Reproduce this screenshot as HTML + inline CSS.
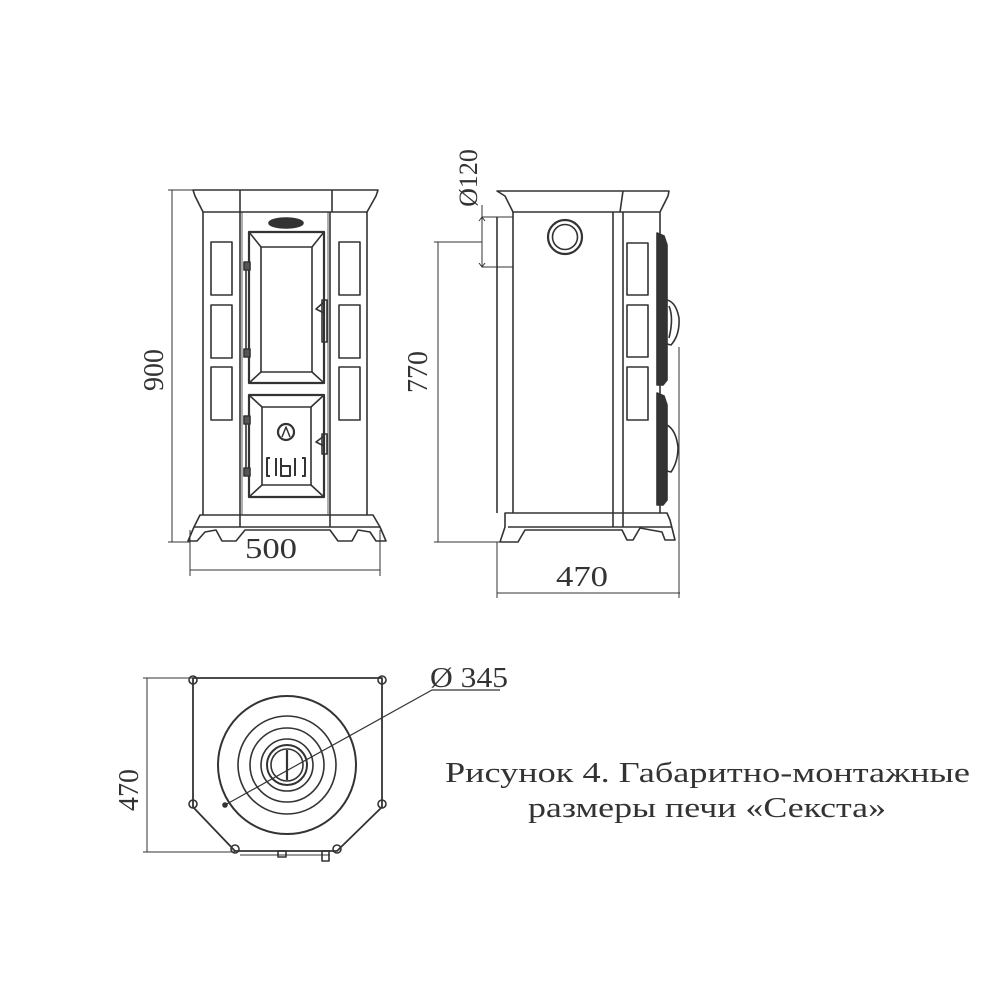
<!DOCTYPE html>
<html><head><meta charset="utf-8"><style>
html,body{margin:0;padding:0;background:#fff;}
svg{display:block}
text{font-family:"Liberation Serif",serif;fill:#333;}
</style></head><body>
<svg width="1000" height="1000" viewBox="0 0 1000 1000" xmlns="http://www.w3.org/2000/svg">
<g fill="none" stroke="#333" stroke-width="1.6" stroke-linejoin="round">
<!-- FRONT VIEW -->
<path d="M193 190 L378 190 L376 196 L367 212 L203 212 L195 196 Z"/>
<line x1="240" y1="190" x2="240" y2="212"/><line x1="332" y1="190" x2="332" y2="212"/>
<line x1="203" y1="212" x2="203" y2="515"/><line x1="367" y1="212" x2="367" y2="515"/>
<line x1="240" y1="212" x2="240" y2="515"/><line x1="330" y1="212" x2="330" y2="515"/>
<line x1="242" y1="212" x2="242" y2="515" stroke-width="0.8"/><line x1="328" y1="212" x2="328" y2="515" stroke-width="0.8"/>
<ellipse cx="286" cy="223" rx="17" ry="5" fill="#333"/>
<rect x="211" y="242" width="21" height="53"/><rect x="211" y="305" width="21" height="53"/><rect x="211" y="367" width="21" height="53"/>
<rect x="339" y="242" width="21" height="53"/><rect x="339" y="305" width="21" height="53"/><rect x="339" y="367" width="21" height="53"/>
<rect x="249" y="232" width="75" height="151" stroke-width="2.2"/>
<rect x="261" y="247" width="51" height="125"/>
<line x1="249" y1="232" x2="261" y2="247"/><line x1="324" y1="232" x2="312" y2="247"/><line x1="249" y1="383" x2="261" y2="372"/><line x1="324" y1="383" x2="312" y2="372"/>
<rect x="249" y="395" width="75" height="102" stroke-width="2.2"/>
<rect x="262" y="407" width="49" height="78"/>
<line x1="249" y1="395" x2="262" y2="407"/><line x1="324" y1="395" x2="311" y2="407"/><line x1="249" y1="497" x2="262" y2="485"/><line x1="324" y1="497" x2="311" y2="485"/>
<circle cx="286" cy="432" r="8" stroke-width="2.2"/>
<path d="M282 437 L286 427 L290 437" stroke-width="1.5"/>
<path d="M270 458 L267 458 L267 476 L270 476 M302 458 L305 458 L305 476 L302 476 M276 458 L276 476 M281 458 L281 476 L290 476 L290 466 L281 466 M295 458 L295 476" stroke-width="2"/>
<rect x="244" y="262" width="6" height="8" fill="#555"/><rect x="244" y="349" width="6" height="8" fill="#555"/>
<rect x="244" y="416" width="6" height="8" fill="#555"/><rect x="244" y="468" width="6" height="8" fill="#555"/>
<line x1="246" y1="270" x2="246" y2="349"/><line x1="246" y1="424" x2="246" y2="468"/>
<path d="M324 302 L316 309 L324 313"/><rect x="322" y="300" width="5" height="42"/>
<path d="M324 436 L316 442 L324 446"/><rect x="322" y="434" width="5" height="20"/>
<path d="M200 515 L373 515 L380 527 L386 541 L376 541 L370 532 L358 530 L352 541 L338 541 L330 530 L245 530 L236 541 L222 541 L216 530 L205 532 L197 541 L188 541 L194 527 Z"/>
<line x1="194" y1="527" x2="380" y2="527"/>
<line x1="240" y1="515" x2="240" y2="527"/><line x1="330" y1="515" x2="330" y2="527"/>
<line x1="172" y1="190" x2="172" y2="542" stroke-width="1"/>
<line x1="168" y1="190" x2="193" y2="190" stroke-width="1"/><line x1="168" y1="542" x2="190" y2="542" stroke-width="1"/>
<line x1="190" y1="530" x2="190" y2="576" stroke-width="1"/><line x1="380" y1="530" x2="380" y2="576" stroke-width="1"/>
<line x1="190" y1="570" x2="380" y2="570" stroke-width="1"/>

<!-- SIDE VIEW -->
<path d="M497 191 L669 191 L668 196 L660 212 L513 212 L505 196 Z"/>
<line x1="623" y1="191" x2="620" y2="212"/>
<line x1="513" y1="212" x2="513" y2="513"/><line x1="613" y1="212" x2="613" y2="513"/><line x1="623" y1="212" x2="623" y2="513"/><line x1="660" y1="212" x2="660" y2="513"/>
<line x1="497" y1="217" x2="497" y2="513"/>
<line x1="482" y1="217" x2="513" y2="217" stroke-width="1"/><line x1="482" y1="267" x2="513" y2="267" stroke-width="1"/>
<line x1="482" y1="205" x2="482" y2="267" stroke-width="1"/>
<path d="M479 221 L482 217 L485 221 M479 263 L482 267 L485 263" stroke-width="1"/>
<circle cx="565" cy="237" r="17" stroke-width="2.2"/><circle cx="565" cy="237" r="12.5"/>
<rect x="627" y="243" width="21" height="52"/><rect x="627" y="305" width="21" height="52"/><rect x="627" y="367" width="21" height="53"/>
<path d="M657 233 L664 236 L667 245 L667 380 L663 385 L657 385 Z" fill="#333"/>
<path d="M657 393 L664 396 L667 405 L667 500 L663 505 L657 505 Z" fill="#333"/>
<path d="M667 300 Q676 302 679 318 Q680 335 671 345 L667 344"/><path d="M669 306 Q674 318 669 338" />
<path d="M667 425 Q676 430 678 447 Q678 462 671 472 L667 471"/>
<line x1="679" y1="347" x2="679" y2="598" stroke-width="1"/>
<path d="M505 513 L667 513 L670 520 L675 540 L665 540 L662 532 L640 528 L633 540 L627 540 L622 530 L525 530 L518 542 L500 542 L505 527 Z"/>
<line x1="508" y1="527" x2="672" y2="527"/>
<line x1="613" y1="513" x2="613" y2="527"/><line x1="623" y1="513" x2="623" y2="527"/>
<line x1="438" y1="242" x2="438" y2="542" stroke-width="1"/>
<line x1="434" y1="242" x2="482" y2="242" stroke-width="1"/><line x1="434" y1="542" x2="500" y2="542" stroke-width="1"/>
<line x1="497" y1="542" x2="497" y2="598" stroke-width="1"/>
<line x1="497" y1="593" x2="680" y2="593" stroke-width="1"/>

<!-- TOP VIEW -->
<path d="M193 678 L382 678 L382 807 L337 851 L235 851 L193 807 Z" stroke-width="1.8"/>
<circle cx="193" cy="680" r="4"/><circle cx="382" cy="680" r="4"/><circle cx="193" cy="804" r="4"/><circle cx="382" cy="804" r="4"/>
<circle cx="235" cy="849" r="4"/><circle cx="337" cy="849" r="4"/>
<rect x="278" y="851" width="8" height="6"/><rect x="322" y="851" width="7" height="10"/>
<line x1="240" y1="855" x2="330" y2="855" stroke-width="1"/>
<circle cx="287" cy="765" r="69" stroke-width="2"/>
<circle cx="287" cy="765" r="49"/>
<circle cx="287" cy="765" r="37"/>
<circle cx="287" cy="765" r="26"/>
<circle cx="287" cy="765" r="20" stroke-width="2"/>
<circle cx="287" cy="765" r="16"/>
<line x1="287" y1="750" x2="287" y2="780" stroke-width="2.2"/>
<path d="M225 805 L432 690 L500 690" stroke-width="1.2"/>
<circle cx="225" cy="805" r="2" fill="#333"/>
<line x1="147" y1="678" x2="147" y2="852" stroke-width="1"/>
<line x1="143" y1="678" x2="193" y2="678" stroke-width="1"/><line x1="143" y1="852" x2="235" y2="852" stroke-width="1"/>
</g>
<text x="245" y="558" font-size="28" textLength="52" lengthAdjust="spacingAndGlyphs">500</text>
<text x="556" y="586" font-size="28" textLength="52" lengthAdjust="spacingAndGlyphs">470</text>
<text transform="translate(163,370) rotate(-90)" font-size="28" text-anchor="middle">900</text>
<text transform="translate(427,372) rotate(-90)" font-size="28" text-anchor="middle">770</text>
<text transform="translate(477,178) rotate(-90)" font-size="26" text-anchor="middle">Ø120</text>
<text transform="translate(138,790) rotate(-90)" font-size="28" text-anchor="middle">470</text>
<text x="430" y="687" font-size="28" textLength="78" lengthAdjust="spacingAndGlyphs">Ø 345</text>
<text x="445" y="782" font-size="28" textLength="525" lengthAdjust="spacingAndGlyphs" fill="#444">Рисунок 4. Габаритно-монтажные</text>
<text x="528" y="817" font-size="28" textLength="358" lengthAdjust="spacingAndGlyphs" fill="#444">размеры печи «Секста»</text>
</svg>
</body></html>
